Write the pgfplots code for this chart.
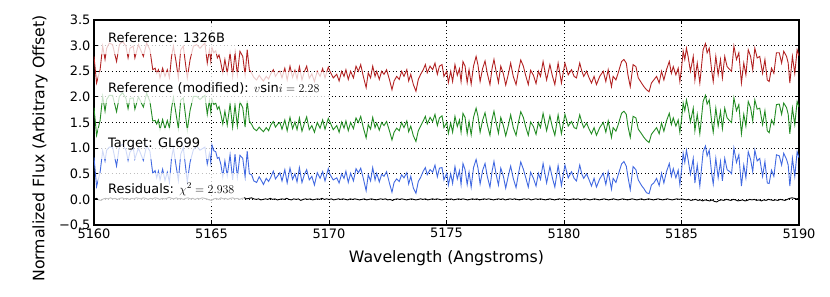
\documentclass[border=0pt]{standalone}
\usepackage{fontspec}
\setmainfont{DejaVu Sans}
\usepackage{pgfplots}
\usepackage{pgfplotstable}
\pgfplotsset{compat=1.18}
\definecolor{cred}{RGB}{178,34,34}
\definecolor{cgreen}{RGB}{34,139,34}
\definecolor{cblue}{RGB}{65,105,225}
\newcommand{\lblfont}{\fontsize{13}{15.6}\selectfont}
\tikzset{lbl/.style={fill=white, fill opacity=0.75, text opacity=1, inner xsep=10bp, inner ysep=8bp,
    text height=12bp, text depth=3bp, anchor=base west}}

\pgfplotstableread{
x r g b
5160.00 2.79 1.79 0.82
5160.11 2.27 1.25 0.25
5160.26 2.53 1.54 0.53
5160.37 2.99 2.01 0.95
5160.47 2.73 1.72 0.75
5160.54 2.95 1.95 0.96
5160.65 3.05 2.03 1.02
5160.79 3.02 2.03 1.02
5160.96 2.69 1.71 0.65
5161.08 3.02 2.01 1.04
5161.22 3.08 2.08 1.07
5161.36 2.99 1.97 0.96
5161.45 2.76 1.77 0.76
5161.53 2.95 1.97 0.92
5161.67 2.99 1.98 1.01
5161.74 2.76 1.76 0.79
5161.89 3.02 2.00 1.00
5162.10 2.79 1.80 0.76
5162.24 3.05 2.07 1.05
5162.38 2.92 1.91 0.94
5162.50 2.53 1.53 0.51
5162.60 2.56 1.54 0.56
5162.67 2.46 1.47 0.42
5162.74 2.53 1.55 0.55
5162.81 2.37 1.36 0.38
5162.92 2.56 1.56 0.59
5163.02 2.40 1.38 0.37
5163.12 2.53 1.54 0.53
5163.21 2.37 1.39 0.33
5163.30 2.79 1.78 0.81
5163.38 2.99 1.99 1.00
5163.49 2.69 1.67 0.66
5163.59 2.37 1.38 0.37
5163.69 2.92 1.94 0.88
5163.80 2.99 1.98 1.01
5163.87 2.73 1.73 0.74
5163.97 2.37 1.35 0.34
5164.09 2.73 1.74 0.73
5164.23 2.99 2.01 0.97
5164.37 3.02 2.01 1.04
5164.51 2.95 1.95 0.96
5164.72 3.05 2.03 1.02
5164.82 2.66 1.66 0.69
5164.91 2.92 1.93 0.90
5164.97 2.70 1.71 0.72
5165.02 2.96 1.95 1.06
5165.10 2.86 1.85 0.95
5165.18 2.90 1.88 0.93
5165.25 2.76 1.76 0.80
5165.32 2.82 1.81 0.82
5165.40 2.66 1.66 0.68
5165.48 2.46 1.47 0.44
5165.57 2.73 1.72 0.75
5165.67 2.46 1.45 0.46
5165.79 2.86 1.86 0.87
5165.90 2.40 1.41 0.38
5166.00 2.86 1.84 0.88
5166.10 2.43 1.43 0.43
5166.21 2.89 1.90 0.86
5166.33 2.79 1.79 0.80
5166.43 2.43 1.41 0.44
5166.52 2.92 1.93 0.94
5166.61 2.53 1.53 0.50
5166.71 2.46 1.46 0.48
5166.80 2.38 1.38 0.36
5166.92 2.33 1.34 0.33
5167.03 2.42 1.41 0.44
5167.12 2.36 1.36 0.37
5167.21 2.31 1.32 0.29
5167.33 2.40 1.40 0.41
5167.43 2.35 1.34 0.35
5167.52 2.45 1.45 0.43
5167.63 2.53 1.52 0.55
5167.72 2.40 1.41 0.40
5167.82 2.47 1.47 0.46
5167.91 2.50 1.50 0.52
5168.00 2.37 1.37 0.36
5168.12 2.56 1.55 0.58
5168.22 2.33 1.34 0.32
5168.34 2.60 1.60 0.61
5168.45 2.38 1.38 0.39
5168.55 2.52 1.51 0.50
5168.64 2.35 1.36 0.34
5168.74 2.59 1.59 0.62
5168.85 2.33 1.33 0.33
5168.95 2.49 1.48 0.48
5169.05 2.60 1.61 0.58
5169.16 2.36 1.36 0.38
5169.27 2.45 1.44 0.45
5169.38 2.30 1.31 0.28
5169.50 2.50 1.50 0.52
5169.62 2.40 1.39 0.41
5169.73 2.55 1.55 0.54
5169.83 2.37 1.37 0.36
5169.97 2.58 1.58 0.60
5170.04 2.50 1.51 0.49
5170.18 2.37 1.36 0.38
5170.33 2.44 1.44 0.42
5170.43 2.31 1.31 0.32
5170.54 2.50 1.51 0.50
5170.64 2.40 1.39 0.41
5170.72 2.53 1.53 0.55
5170.82 2.34 1.34 0.33
5170.92 2.50 1.50 0.51
5171.04 2.37 1.38 0.36
5171.15 2.60 1.59 0.60
5171.25 2.50 1.50 0.52
5171.35 2.63 1.62 0.61
5171.46 2.40 1.40 0.41
5171.58 2.18 1.20 0.17
5171.67 2.47 1.46 0.48
5171.77 2.37 1.37 0.36
5171.86 2.60 1.60 0.62
5171.96 2.40 1.40 0.38
5172.03 2.50 1.49 0.51
5172.14 2.34 1.35 0.34
5172.24 2.50 1.50 0.49
5172.34 2.44 1.44 0.45
5172.45 2.53 1.52 0.54
5172.57 2.34 1.34 0.32
5172.68 2.14 1.16 0.14
5172.77 2.31 1.31 0.33
5172.88 2.40 1.39 0.40
5172.99 2.34 1.34 0.35
5173.09 2.50 1.50 0.48
5173.19 2.40 1.40 0.42
5173.31 2.53 1.53 0.52
5173.39 2.31 1.32 0.30
5173.48 2.44 1.43 0.45
5173.59 2.24 1.24 0.22
5173.70 2.11 1.13 0.12
5173.80 2.34 1.34 0.35
5173.90 2.44 1.43 0.43
5174.01 2.53 1.53 0.55
5174.10 2.63 1.62 0.62
5174.18 2.47 1.47 0.48
5174.30 2.60 1.60 0.58
5174.41 2.53 1.52 0.53
5174.51 2.66 1.66 0.67
5174.61 2.44 1.44 0.44
5174.70 2.60 1.59 0.61
5174.81 2.63 1.63 0.62
5174.89 2.40 1.40 0.38
5175.01 2.50 1.50 0.51
5175.08 2.28 1.29 0.28
5175.18 2.50 1.49 0.50
5175.26 2.30 1.31 0.31
5175.36 2.63 1.62 0.64
5175.46 2.42 1.42 0.40
5175.55 2.55 1.55 0.56
5175.62 2.30 1.31 0.29
5175.70 2.69 1.68 0.70
5175.79 2.60 1.60 0.58
5175.88 2.28 1.28 0.29
5175.96 2.53 1.52 0.53
5176.05 2.25 1.26 0.24
5176.15 2.60 1.60 0.62
5176.26 2.79 1.78 0.78
5176.34 2.62 1.62 0.61
5176.43 2.30 1.31 0.30
5176.54 2.56 1.55 0.57
5176.64 2.70 1.69 0.70
5176.74 2.45 1.45 0.44
5176.85 2.24 1.25 0.24
5176.94 2.56 1.56 0.55
5177.02 2.73 1.72 0.74
5177.11 2.50 1.50 0.49
5177.21 2.28 1.29 0.28
5177.31 2.60 1.60 0.61
5177.42 2.45 1.44 0.45
5177.52 2.23 1.24 0.22
5177.63 2.44 1.44 0.46
5177.73 2.66 1.65 0.65
5177.84 2.40 1.40 0.41
5177.96 2.24 1.25 0.23
5178.06 2.50 1.50 0.50
5178.16 2.72 1.71 0.73
5178.27 2.60 1.60 0.59
5178.38 2.40 1.40 0.41
5178.48 2.24 1.25 0.24
5178.58 2.52 1.51 0.53
5178.70 2.42 1.42 0.41
5178.81 2.26 1.27 0.26
5178.91 2.50 1.50 0.51
5179.00 2.40 1.40 0.39
5179.11 2.69 1.68 0.70
5179.26 2.33 1.34 0.32
5179.40 2.63 1.63 0.64
5179.50 2.42 1.42 0.43
5179.61 2.24 1.25 0.24
5179.75 2.66 1.65 0.66
5179.89 2.27 1.28 0.27
5180.04 2.66 1.66 0.67
5180.18 2.43 1.43 0.42
5180.32 2.53 1.52 0.54
5180.43 2.40 1.40 0.41
5180.53 2.37 1.38 0.36
5180.67 2.66 1.65 0.67
5180.76 2.50 1.50 0.49
5180.84 2.40 1.40 0.41
5180.96 2.50 1.49 0.50
5181.06 2.38 1.38 0.39
5181.17 2.27 1.28 0.26
5181.28 2.40 1.40 0.41
5181.38 2.24 1.25 0.24
5181.52 2.40 1.40 0.40
5181.67 2.50 1.50 0.51
5181.78 2.30 1.31 0.29
5181.88 2.53 1.53 0.54
5182.02 2.20 1.21 0.20
5182.09 2.40 1.40 0.41
5182.21 2.33 1.33 0.33
5182.30 2.46 1.45 0.47
5182.45 2.69 1.68 0.69
5182.55 2.73 1.72 0.74
5182.65 2.66 1.66 0.65
5182.72 2.43 1.43 0.44
5182.82 2.20 1.21 0.19
5182.94 2.63 1.62 0.64
5183.06 2.59 1.59 0.58
5183.16 2.37 1.37 0.38
5183.30 2.27 1.28 0.27
5183.40 2.20 1.21 0.21
5183.51 2.14 1.15 0.13
5183.62 2.10 1.11 0.11
5183.72 2.27 1.27 0.28
5183.82 2.33 1.33 0.32
5183.94 2.40 1.40 0.41
5184.05 2.27 1.28 0.27
5184.15 2.50 1.49 0.51
5184.25 2.33 1.33 0.32
5184.36 2.53 1.53 0.54
5184.48 2.69 1.68 0.70
5184.57 2.46 1.46 0.45
5184.65 2.59 1.59 0.60
5184.76 2.43 1.43 0.42
5184.86 2.56 1.55 0.57
5184.93 2.30 1.31 0.29
5185.00 2.55 1.55 0.56
5185.07 2.89 1.88 0.90
5185.14 2.73 1.73 0.72
5185.21 2.95 1.94 0.96
5185.28 2.79 1.79 0.78
5185.38 2.50 1.51 0.49
5185.50 2.79 1.78 0.80
5185.57 2.33 1.34 0.32
5185.67 2.66 1.66 0.67
5185.78 2.27 1.28 0.26
5185.92 2.92 1.91 0.93
5186.02 3.04 2.03 1.04
5186.09 2.86 1.86 0.85
5186.18 2.95 1.94 0.96
5186.28 2.53 1.53 0.52
5186.35 2.30 1.31 0.30
5186.46 2.79 1.78 0.80
5186.56 2.43 1.43 0.42
5186.66 2.73 1.72 0.74
5186.74 2.37 1.38 0.36
5186.84 2.79 1.78 0.80
5186.94 2.59 1.59 0.58
5187.06 2.53 1.53 0.54
5187.13 2.50 1.50 0.50
5187.23 2.99 1.98 1.00
5187.34 2.73 1.73 0.72
5187.44 2.86 1.85 0.87
5187.55 2.27 1.28 0.26
5187.65 2.66 1.66 0.67
5187.74 2.43 1.43 0.42
5187.84 2.92 1.91 0.93
5187.94 2.79 1.79 0.78
5188.03 2.53 1.53 0.54
5188.12 2.95 1.94 0.96
5188.22 2.76 1.76 0.75
5188.33 2.79 1.78 0.80
5188.45 2.46 1.46 0.45
5188.55 2.73 1.73 0.74
5188.65 2.33 1.34 0.32
5188.73 2.30 1.30 0.31
5188.83 2.56 1.55 0.57
5188.93 2.46 1.46 0.45
5189.04 2.86 1.85 0.87
5189.16 2.86 1.86 0.85
5189.26 2.66 1.66 0.67
5189.35 2.89 1.88 0.90
5189.47 2.79 1.79 0.78
5189.54 2.66 1.66 0.67
5189.61 2.27 1.28 0.26
5189.72 2.79 1.78 0.80
5189.82 2.46 1.46 0.45
5189.92 2.92 1.91 0.93
5190.00 2.80 1.80 0.81
}\spec

\begin{document}
\begin{tikzpicture}
\begin{axis}[
  scale only axis, width=705bp, height=205bp,
  xmin=5160, xmax=5190, ymin=-0.5, ymax=3.5,
  xtick={5160,5165,5170,5175,5180,5185,5190},
  xticklabels={5160,5165,5170,5175,5180,5185,5190},
  ytick={-0.5,0,0.5,1,1.5,2,2.5,3,3.5},
  yticklabels={−0.5,0.0,0.5,1.0,1.5,2.0,2.5,3.0,3.5},
  tick align=inside, major tick length=4bp,
  tick style={black, line width=0.8bp},
  xmajorgrids, ymajorgrids,
  grid style={black, line width=0.8bp, dash pattern=on 1bp off 2.6bp},
  axis line style={line width=1.2bp},
  ticklabel style={font=\fontsize{13}{15.6}\selectfont},
  label style={font=\fontsize{15.8}{19}\selectfont},
  xlabel={Wavelength (Angstroms)},
  ylabel={Normalized Flux (Arbitrary Offset)},
  xlabel style={at={(axis description cs:0.5,-0.161)}, anchor=center},
  ylabel style={at={(axis description cs:-0.0766,0.373)}, anchor=center},
]
\addplot[cred, line width=0.9bp] table[x=x, y=r] {\spec};
\addplot[cgreen, line width=0.9bp] table[x=x, y=g] {\spec};
\addplot[cblue, line width=0.9bp] table[x=x, y=b] {\spec};
\addplot[black, line width=0.9bp] coordinates {
(5160.0,0.00)(5160.1,0.02)(5160.2,-0.01)(5160.3,-0.02)(5160.4,0.01)(5160.5,0.02)(5160.6,0.01)(5160.7,0.03)(5160.8,0.01)(5160.9,0.02)
(5161.0,0.00)(5161.1,0.02)(5161.2,0.03)(5161.3,0.01)(5161.4,0.02)(5161.5,0.00)(5161.6,0.02)(5161.7,0.01)(5161.8,0.03)(5161.9,0.02)
(5162.0,0.01)(5162.1,0.03)(5162.2,0.02)(5162.3,0.00)(5162.4,0.02)(5162.5,0.01)(5162.6,0.03)(5162.7,0.02)(5162.8,0.00)(5162.9,0.02)
(5163.0,0.01)(5163.1,0.02)(5163.2,0.04)(5163.3,0.02)(5163.4,0.01)(5163.5,0.03)(5163.6,0.01)(5163.7,0.02)(5163.8,0.00)(5163.9,0.02)
(5164.0,0.03)(5164.1,0.01)(5164.2,0.02)(5164.3,0.00)(5164.4,0.02)(5164.5,0.01)(5164.6,0.03)(5164.7,0.02)(5164.8,0.01)(5164.9,-0.01)
(5165.0,-0.02)(5165.1,0.01)(5165.2,0.02)(5165.3,0.00)(5165.4,0.03)(5165.5,0.01)(5165.6,0.02)(5165.7,0.00)(5165.8,0.02)(5165.9,0.03)
(5166.0,0.01)(5166.1,0.02)(5166.2,0.00)(5166.3,0.02)(5166.4,0.03)(5166.5,0.01)(5166.6,0.02)(5166.7,0.03)(5166.8,0.01)(5166.9,0.00)
(5167.0,0.01)(5167.1,-0.01)(5167.2,0.00)(5167.3,0.01)(5167.4,0.00)(5167.5,0.02)(5167.6,0.00)(5167.7,0.01)(5167.8,-0.01)(5167.9,0.00)
(5168.0,0.01)(5168.1,0.00)(5168.2,0.02)(5168.3,0.00)(5168.4,-0.01)(5168.5,0.01)(5168.6,0.00)(5168.7,0.01)(5168.8,-0.02)(5168.9,0.00)
(5169.0,0.01)(5169.1,0.00)(5169.2,0.01)(5169.3,-0.01)(5169.4,0.00)(5169.5,0.01)(5169.6,0.00)(5169.7,0.02)(5169.8,0.00)(5169.9,0.01)
(5170.0,0.00)(5170.1,0.01)(5170.2,-0.01)(5170.3,0.00)(5170.4,0.01)(5170.5,0.00)(5170.6,0.01)(5170.7,0.00)(5170.8,-0.01)(5170.9,0.01)
(5171.0,0.00)(5171.1,0.01)(5171.2,0.00)(5171.3,-0.01)(5171.4,0.00)(5171.5,0.01)(5171.6,-0.01)(5171.7,0.00)(5171.8,0.01)(5171.9,0.00)
(5172.0,-0.01)(5172.1,0.00)(5172.2,0.01)(5172.3,0.00)(5172.4,0.01)(5172.5,-0.01)(5172.6,0.00)(5172.7,-0.02)(5172.8,0.00)(5172.9,0.01)
(5173.0,0.00)(5173.1,0.01)(5173.2,0.00)(5173.3,-0.01)(5173.4,0.00)(5173.5,0.01)(5173.6,0.00)(5173.7,-0.01)(5173.8,0.00)(5173.9,0.01)
(5174.0,0.00)(5174.1,0.01)(5174.2,-0.01)(5174.3,0.00)(5174.4,0.01)(5174.5,0.00)(5174.6,0.01)(5174.7,0.00)(5174.8,-0.01)(5174.9,0.00)
(5175.0,0.01)(5175.1,0.00)(5175.2,0.01)(5175.3,-0.01)(5175.4,0.00)(5175.5,0.01)(5175.6,0.00)(5175.7,0.01)(5175.8,0.00)(5175.9,-0.01)
(5176.0,0.00)(5176.1,0.01)(5176.2,0.00)(5176.3,0.01)(5176.4,-0.01)(5176.5,0.00)(5176.6,0.01)(5176.7,0.00)(5176.8,0.01)(5176.9,0.00)
(5177.0,-0.01)(5177.1,0.00)(5177.2,0.01)(5177.3,0.00)(5177.4,0.01)(5177.5,-0.01)(5177.6,0.00)(5177.7,0.01)(5177.8,0.00)(5177.9,0.01)
(5178.0,0.00)(5178.1,-0.01)(5178.2,0.00)(5178.3,0.01)(5178.4,0.00)(5178.5,0.01)(5178.6,-0.01)(5178.7,0.00)(5178.8,0.01)(5178.9,0.00)
(5179.0,0.01)(5179.1,0.00)(5179.2,-0.01)(5179.3,0.00)(5179.4,0.01)(5179.5,0.00)(5179.6,-0.01)(5179.7,0.00)(5179.8,0.01)(5179.9,0.00)
(5180.0,0.01)(5180.1,0.00)(5180.2,-0.01)(5180.3,0.00)(5180.4,0.01)(5180.5,0.00)(5180.6,0.01)(5180.7,-0.01)(5180.8,0.00)(5180.9,0.01)
(5181.0,0.00)(5181.1,-0.01)(5181.2,0.00)(5181.3,0.01)(5181.4,0.00)(5181.5,-0.01)(5181.6,0.00)(5181.7,0.01)(5181.8,0.00)(5181.9,-0.01)
(5182.0,0.00)(5182.1,0.01)(5182.2,0.00)(5182.3,-0.01)(5182.4,0.00)(5182.5,0.01)(5182.6,0.00)(5182.7,-0.01)(5182.8,0.00)(5182.9,0.01)
(5183.0,0.00)(5183.1,-0.01)(5183.2,0.00)(5183.3,0.01)(5183.4,-0.01)(5183.5,0.00)(5183.6,0.01)(5183.7,0.00)(5183.8,-0.01)(5183.9,0.00)
(5184.0,0.01)(5184.1,0.00)(5184.2,-0.01)(5184.3,0.00)(5184.4,0.01)(5184.5,0.00)(5184.6,-0.01)(5184.7,0.00)(5184.8,0.01)(5184.9,0.00)
(5185.0,0.01)(5185.1,0.00)(5185.2,-0.01)(5185.3,0.00)(5185.4,-0.02)(5185.5,-0.01)(5185.6,0.00)(5185.7,-0.02)(5185.8,-0.01)(5185.9,-0.03)
(5186.0,-0.01)(5186.1,-0.02)(5186.2,-0.03)(5186.3,-0.01)(5186.4,-0.04)(5186.5,-0.05)(5186.6,-0.02)(5186.7,-0.01)(5186.8,-0.02)(5186.9,0.00)
(5187.0,-0.01)(5187.1,-0.02)(5187.2,0.00)(5187.3,-0.01)(5187.4,-0.03)(5187.5,-0.02)(5187.6,-0.01)(5187.7,-0.03)(5187.8,-0.02)(5187.9,0.00)
(5188.0,-0.01)(5188.1,0.00)(5188.2,-0.02)(5188.3,-0.01)(5188.4,-0.03)(5188.5,-0.01)(5188.6,-0.02)(5188.7,0.00)(5188.8,-0.01)(5188.9,-0.02)
(5189.0,-0.01)(5189.1,-0.02)(5189.2,0.00)(5189.3,-0.01)(5189.4,-0.02)(5189.5,0.00)(5189.6,0.02)(5189.7,0.03)(5189.8,0.02)(5189.9,0.01)(5190.0,0.02)
};
\node[lbl] at (axis cs:5160.17,3.06) {\lblfont Reference: 1326B};
\node[lbl] at (axis cs:5160.17,2.09) {\lblfont Reference (modified): $v\mathrm{sin}i=2.28$};
\node[lbl] at (axis cs:5160.17,1.01) {\lblfont Target: GL699};
\node[lbl] at (axis cs:5160.17,0.12) {\lblfont Residuals: $\chi^2=2.938$};
\coordinate (O) at (rel axis cs:0,0);
\end{axis}
\path (O) ++(-94bp,-72bp) rectangle ++(830bp,297bp);
\end{tikzpicture}
\end{document}
